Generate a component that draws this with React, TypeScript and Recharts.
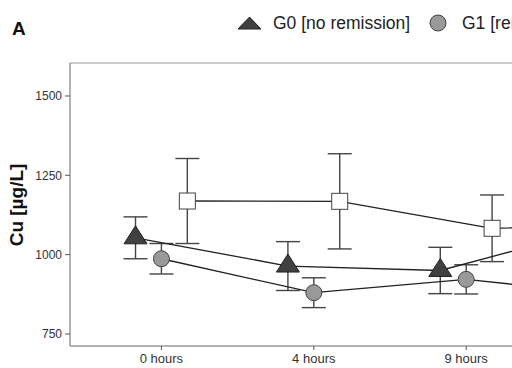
import { ComposedChart, Scatter, ErrorBar, XAxis, YAxis, ReferenceArea } from 'recharts';

// the 4th time point sits beyond the cropped right edge; only its lines show
const TIMES = ['0 hours', '4 hours', '9 hours'];
const G0_MEAN = [1053, 964, 950, 1079];
const G0_SD = [66, 77, 73, 70];
const G1_MEAN = [987, 880, 922, 871];
const G1_SD = [48, 47, 46, 45];
const G2_MEAN = [1169, 1168, 1083, 1095];
const G2_SD = [134, 150, 105, 100];
const Y_TICKS = [750, 1000, 1250, 1500];

const FONT = '"Liberation Sans", Arial, sans-serif';
const DODGE = 0.17;

const build = (mean: number[], sd: number[], offset: number) =>
  mean.map((y, i) => ({ x: i + offset, y, err: sd[i] }));

const g0 = build(G0_MEAN, G0_SD, -DODGE);
const g1 = build(G1_MEAN, G1_SD, 0);
const g2 = build(G2_MEAN, G2_SD, DODGE);

const Triangle = (p: any) => (
  <polygon
    points={`${p.cx - 11.5},${p.cy + 6} ${p.cx + 11.5},${p.cy + 6} ${p.cx},${p.cy - 12}`}
    fill="#404040"
    stroke="#222"
    strokeWidth={1}
  />
);
const Circle = (p: any) => <circle cx={p.cx} cy={p.cy} r={8} fill="#999" stroke="#444" strokeWidth={1} />;
const Square = (p: any) => (
  <rect x={p.cx - 8} y={p.cy - 8} width={16} height={16} fill="#fff" stroke="#444" strokeWidth={1} />
);
const Nothing = () => <g />;

const series = [
  { key: 'g0', data: g0, shape: Triangle },
  { key: 'g1', data: g1, shape: Circle },
  { key: 'g2', data: g2, shape: Square },
];

export default function App() {
  return (
    <div style={{ position: 'fixed', left: 0, top: 0, width: 512, height: 368, overflow: 'hidden', background: '#fff' }}>
      <ComposedChart width={720} height={368} margin={{ top: 63, right: 10, left: 20, bottom: 0 }}>
        <XAxis
          type="number"
          dataKey="x"
          domain={[-0.6, 3.6]}
          ticks={TIMES.map((_, i) => i)}
          tickFormatter={(i: number) => TIMES[i]}
          allowDataOverflow
          height={22}
          tickSize={4}
          tickMargin={4}
          axisLine={{ stroke: '#999' }}
          tickLine={{ stroke: '#555' }}
          tick={{ fill: '#333', fontSize: 13, fontFamily: FONT }}
        />
        <YAxis
          type="number"
          dataKey="y"
          domain={[712, 1604]}
          ticks={Y_TICKS}
          allowDataOverflow
          width={50}
          tickSize={5}
          tickMargin={3}
          axisLine={{ stroke: '#999' }}
          tickLine={{ stroke: '#555' }}
          tick={{ fill: '#333', fontSize: 12, fontFamily: FONT }}
        />
        <ReferenceArea x1={-0.6} x2={3.6} y1={712} y2={1604} fill="none" stroke="#999" strokeWidth={1} />
        {series.map((s) => (
          <Scatter key={`${s.key}-err`} data={s.data} shape={Nothing} isAnimationActive={false}>
            <ErrorBar dataKey="err" direction="y" width={12} stroke="#444" strokeWidth={1.4} />
          </Scatter>
        ))}
        {series.map((s) => (
          <Scatter
            key={`${s.key}-line`}
            data={s.data}
            shape={Nothing}
            line={{ stroke: '#222', strokeWidth: 1.3 }}
            lineType="joint"
            isAnimationActive={false}
          />
        ))}
        {series.map((s) => (
          <Scatter key={`${s.key}-pt`} data={s.data} shape={s.shape} isAnimationActive={false} />
        ))}
        <text x={12} y={35} fontFamily={FONT} fontWeight="bold" fontSize={19} fill="#111">
          A
        </text>
        <text
          x={23}
          y={205}
          transform="rotate(-90, 23, 205)"
          textAnchor="middle"
          fontFamily={FONT}
          fontWeight="bold"
          fontSize={19}
          fill="#111"
        >
          Cu [µg/L]
        </text>
        <polygon points="238,29 261,29 249.5,17" fill="#404040" stroke="#222" strokeWidth={1} />
        <text x={273} y={29} fontFamily={FONT} fontSize={17.5} fill="#222">
          G0 [no remission]
        </text>
        <circle cx={438} cy={23} r={8} fill="#999" stroke="#444" strokeWidth={1} />
        <text x={462} y={29} fontFamily={FONT} fontSize={17.5} fill="#222">
          G1 [remission]
        </text>
      </ComposedChart>
    </div>
  );
}
